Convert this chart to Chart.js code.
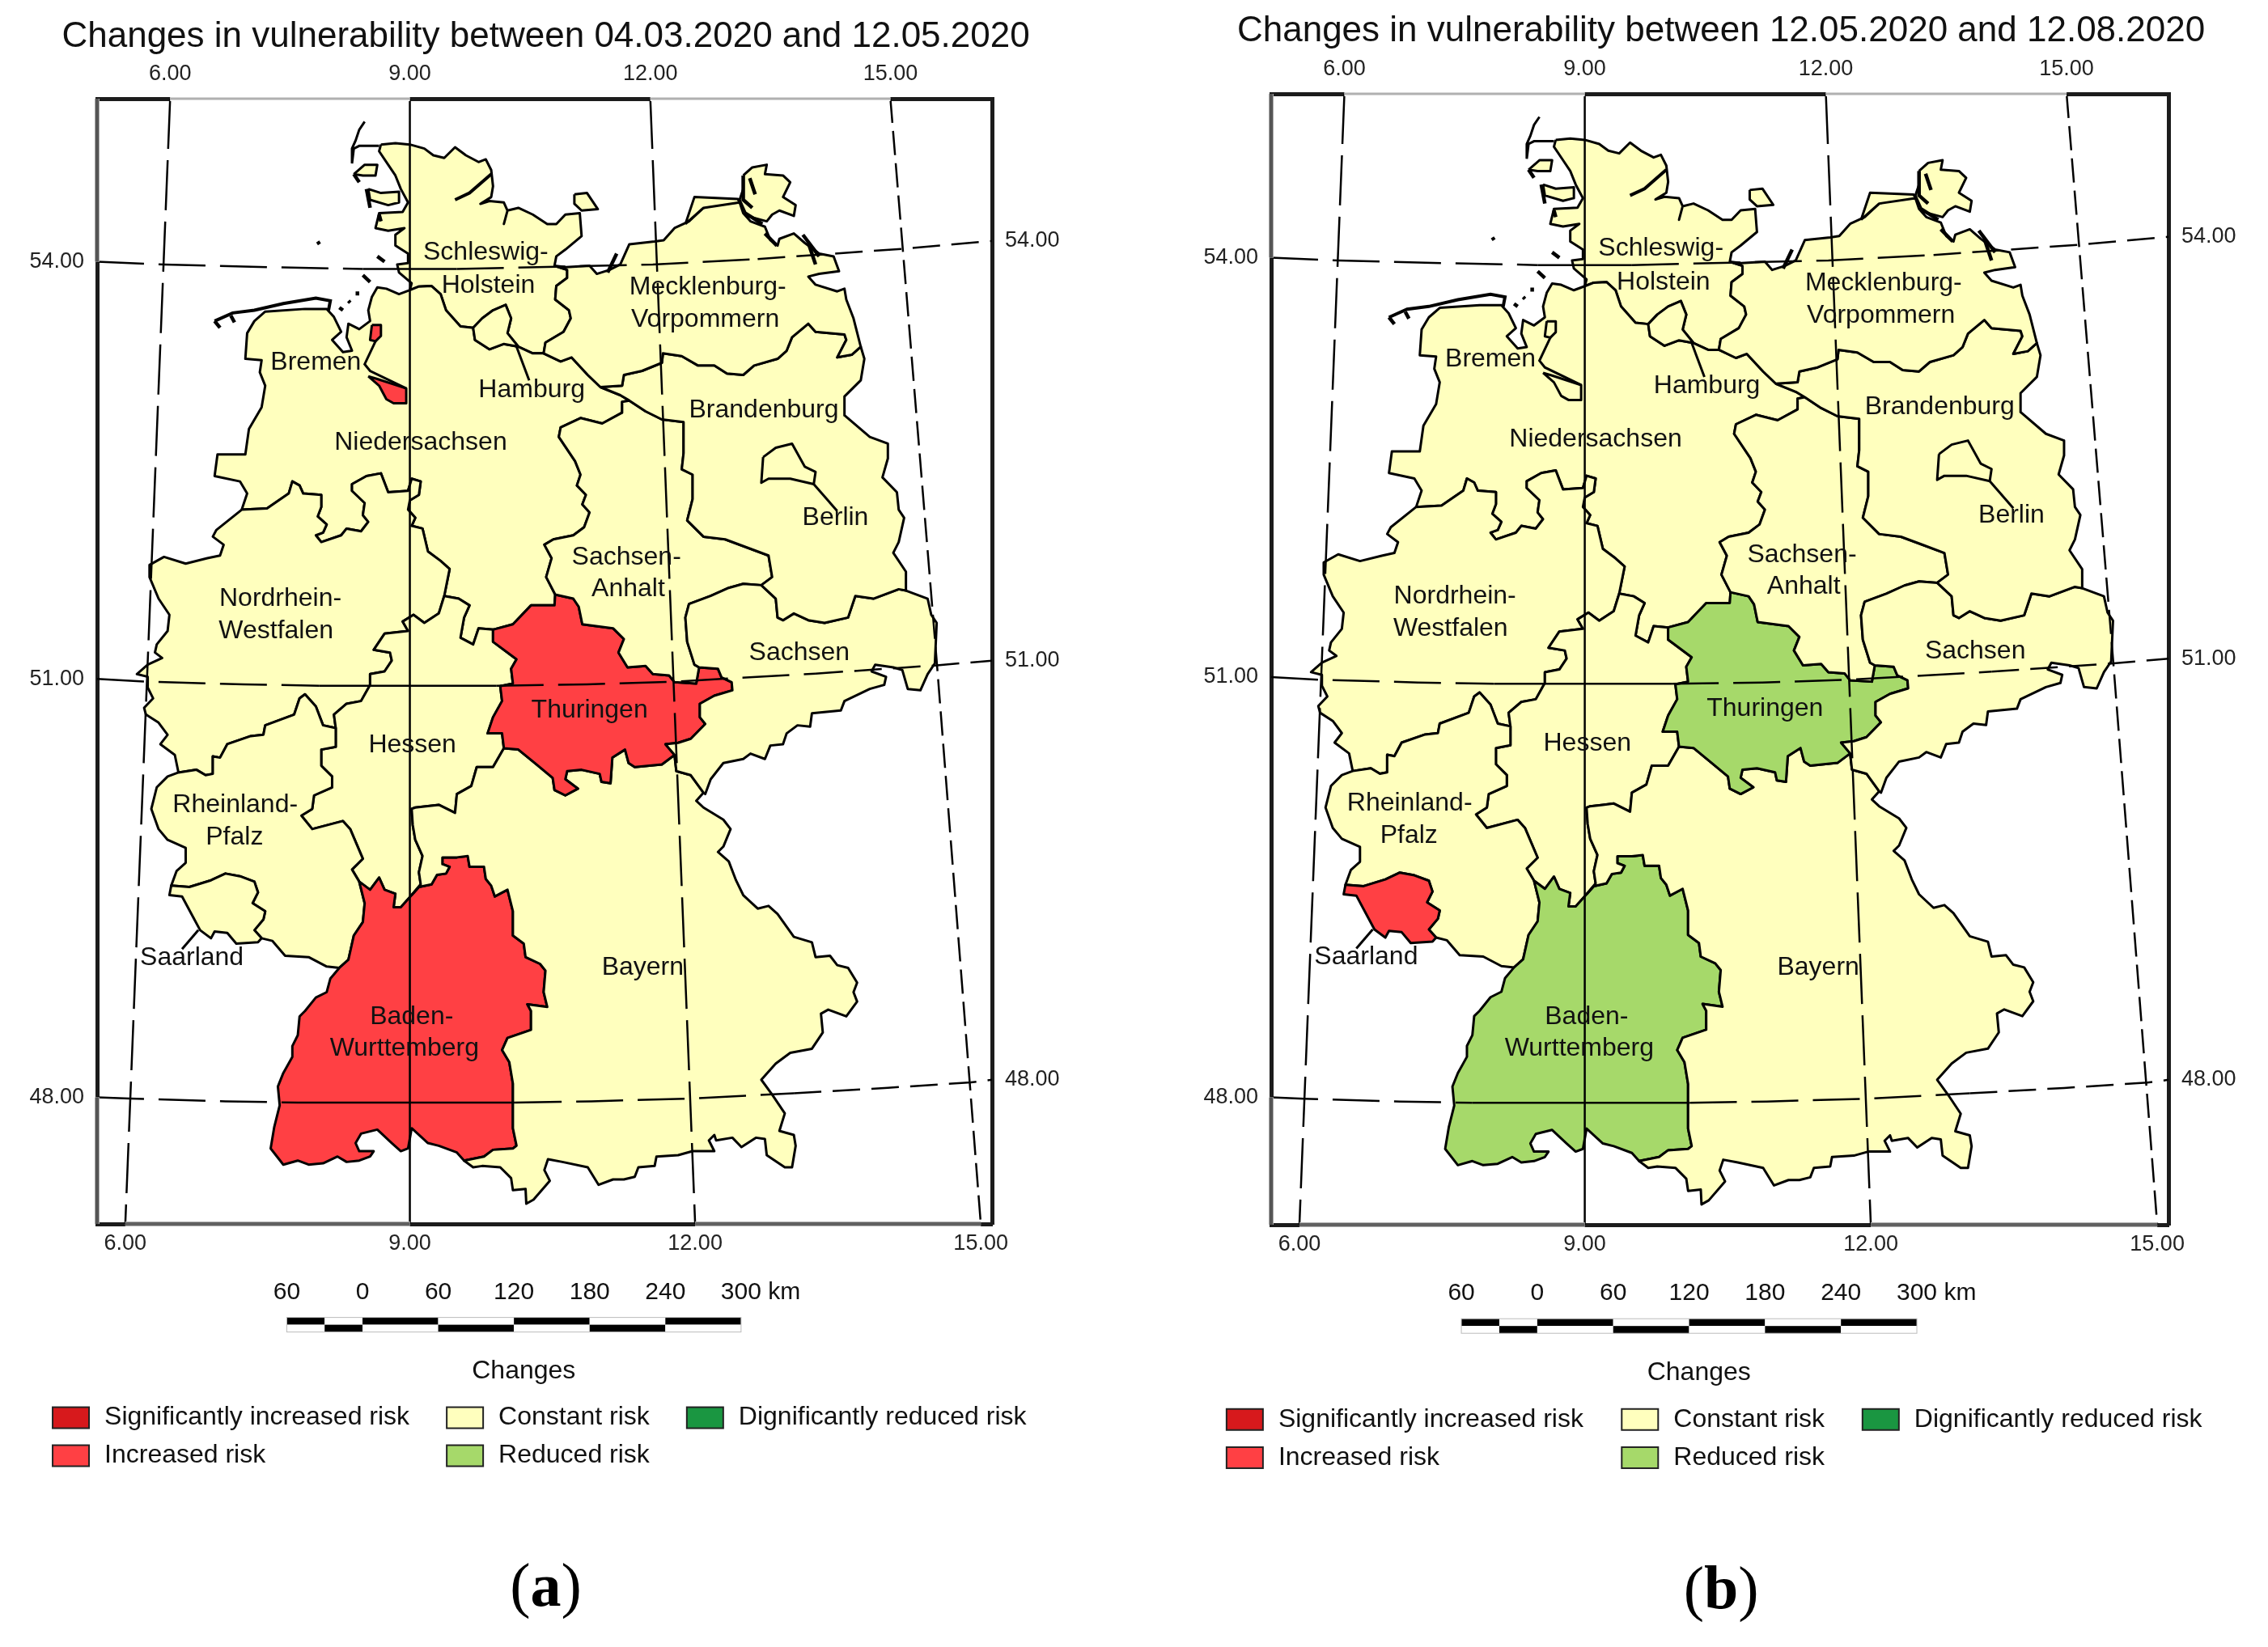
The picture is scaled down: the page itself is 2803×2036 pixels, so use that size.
<!DOCTYPE html>
<html>
<head>
<meta charset="utf-8">
<title>Changes in vulnerability</title>
<script src="https://cdn.jsdelivr.net/npm/chart.js@4"></script>
<style>
  html, body { margin: 0; background: #fff; }
  canvas { position: absolute; top: 0; }
</style>
</head>
<body>
<canvas id="mapA" width="1400" height="2036" style="left:0"></canvas>
<canvas id="mapB" width="1403" height="2036" style="left:1400px"></canvas>
<script>
// Map data. Units are sheet units of the map (x 45-2520, y 65-4240)
const lonTickLabels = ["6.00", "9.00", "12.00", "15.00"];
const latTickLabels = ["54.00", "51.00", "48.00"];
const lonTopAt = [247, 910, 1575, 2239];
const lonBottomAt = [123, 910, 1699, 2489];
const latLeftAt = [670, 2218, 3770];
const latRightAt = [593, 2150, 3705];

// Graticule
const meridian6 = [[247,65],[123,4240]];
const meridian9 = [[910,65],[910,4240]];
const meridian12 = [[1575,65],[1699,4240]];
const meridian15 = [[2239,65],[2367,2150],[2489,4240]];
const parallel54 = [[45,670],[230,680],[520,690],[780,697],[1040,697],[1582,680],[1872,660],[2272,622],[2520,593]];
const parallel51 = [[45,2218],[180,2228],[450,2238],[660,2243],[1150,2243],[1400,2238],[1642,2228],[2032,2198],[2362,2168],[2520,2150]];
const parallel48 = [[45,3770],[135,3775],[400,3785],[600,3790],[1200,3790],[1412,3785],[1682,3775],[1972,3755],[2232,3735],[2462,3715],[2520,3705]];

// Shared borders
const shCoast = [[830,235],[870,230],[910,235],[950,250],[975,275],[1005,285],[1035,245],[1065,275],[1100,300],[1120,290],[1135,330],[1140,390],[1135,430],[1105,455],[1130,445],[1170,450],[1180,480],[1170,530],[1180,480],[1210,470],[1250,495],[1290,530],[1315,530],[1340,495],[1380,490],[1385,575],[1340,625],[1315,650],[1310,685]];
const shMv = [[1310,685],[1345,700],[1345,730],[1315,760],[1312,810],[1350,850],[1355,880],[1335,930],[1285,970],[1280,1010]];
const elbeNorth = [[1280,1010],[1250,1010],[1210,985],[1180,935],[1190,880],[1175,830],[1140,850],[1110,880],[1085,915],[1050,910],[1010,850],[995,790],[970,760],[935,762],[910,775]];
const shWest = [[910,775],[915,750],[880,710],[875,680],[905,675],[905,640],[870,610],[870,570],[895,545],[850,555],[815,545],[825,490],[890,485],[905,450],[885,400],[870,350],[850,310],[825,260],[830,235]];
const hhSouth = [[1085,915],[1090,960],[1130,995],[1170,975],[1210,985]];
const nsMv = [[1280,1010],[1327,1040],[1357,1025],[1402,1090],[1437,1135]];
const nsBb = [[1437,1135],[1492,1165],[1517,1185]];
const nsSt = [[1517,1185],[1497,1190],[1497,1230],[1442,1270],[1382,1250],[1327,1285],[1322,1320],[1367,1410],[1382,1460],[1372,1500],[1397,1535],[1387,1570],[1407,1600],[1392,1655],[1362,1685],[1307,1700],[1282,1720],[1302,1770],[1287,1840],[1312,1905]];
const thNs = [[1312,1905],[1310,1945],[1245,1945],[1195,2015],[1140,2035]];
const nsHe = [[1140,2035],[1100,2030],[1085,2090],[1050,2065],[1060,1990],[1075,1945],[1045,1920],[1005,1910]];
const nsNrw = [[1005,1910],[1020,1810],[995,1780],[960,1745],[945,1660],[915,1650],[925,1620],[905,1590],[910,1555],[935,1535],[940,1485],[915,1475],[905,1520],[850,1525],[830,1455],[790,1465],[750,1495],[750,1520],[785,1565],[780,1610],[795,1635],[775,1670],[735,1660],[720,1685],[665,1710],[650,1685],[670,1675],[680,1645],[655,1615],[665,1580],[665,1535],[615,1530],[605,1500],[585,1485],[575,1530],[515,1585],[445,1590]];
const nsWest = [[445,1590],[460,1530],[440,1485],[370,1465],[378,1385],[455,1385],[465,1290],[500,1210],[510,1130],[495,1080],[500,1035],[455,1030],[460,935],[480,890],[510,855],[620,845],[680,845],[700,875],[720,930],[695,960],[725,1005],[750,1000],[735,950],[740,900],[770,920],[800,890],[795,850],[805,800],[820,765],[845,770],[880,790],[910,775]];
const nrwHe = [[1005,1910],[990,1975],[950,2010],[920,1980],[890,2005],[905,2040],[840,2050],[810,2110],[855,2120],[860,2150],[840,2190],[800,2200],[800,2240],[775,2300],[735,2310],[700,2350],[705,2400]];
const nrwRp = [[705,2400],[670,2390],[650,2320],[620,2275],[605,2290],[590,2350],[510,2390],[505,2425],[470,2430],[405,2460],[385,2510],[365,2505],[365,2570],[345,2575],[320,2555],[270,2565]];
const nrwWest = [[270,2565],[260,2500],[220,2460],[240,2425],[215,2380],[180,2350],[175,2325],[200,2290],[185,2250],[185,2210],[155,2200],[185,2165],[225,2140],[205,2120],[210,2090],[240,2040],[245,1980],[215,1920],[190,1840],[190,1795],[230,1765],[290,1790],[350,1770],[385,1760],[395,1720],[365,1690],[375,1665],[445,1590]];
const heTh = [[1140,2035],[1140,2080],[1205,2145],[1190,2180],[1195,2235],[1160,2245],[1165,2300],[1140,2360],[1125,2420],[1165,2420],[1170,2475]];
const heBy = [[1170,2475],[1140,2545],[1095,2545],[1080,2615],[1040,2645],[1035,2715],[990,2685],[960,2690],[925,2695],[915,2700],[918,2760],[925,2815],[945,2875],[935,2935],[940,2980],[915,3020]];
const heBw = [[915,3020],[885,3065],[865,3065],[870,3015],[840,3000],[825,2955],[800,3000],[770,2970]];
const heRp = [[770,2970],[750,2925],[780,2885],[745,2775],[725,2745],[640,2775],[610,2725],[640,2700],[645,2650],[695,2620],[695,2580],[665,2540],[665,2480],[705,2470],[705,2400]];
const rpBw = [[770,2970],[785,3050],[780,3120],[755,3170],[740,3260],[715,3290]];
const rpFrance = [[715,3290],[680,3285],[630,3250],[565,3245],[530,3190],[500,3180]];
const rpSl = [[500,3180],[480,3150],[505,3110],[510,3080],[475,3050],[490,3010],[480,2970],[440,2950],[400,2940],[360,2965],[300,2990],[250,2985]];
const rpWest = [[250,2985],[265,2930],[290,2900],[290,2845],[240,2815],[215,2775],[195,2700],[210,2620],[240,2580],[270,2565]];
const slOuter = [[250,2985],[245,3020],[280,3025],[310,3100],[330,3150],[360,3180],[370,3155],[405,3160],[430,3200],[490,3195],[500,3180]];
const bwBy = [[915,3020],[935,2990],[970,2980],[985,2945],[1010,2940],[1020,2915],[1000,2905],[1000,2880],[1040,2880],[1070,2875],[1075,2915],[1115,2915],[1120,2960],[1135,2985],[1145,3025],[1180,3000],[1195,3080],[1195,3170],[1225,3200],[1230,3250],[1270,3275],[1285,3300],[1280,3380],[1290,3435],[1235,3425],[1245,3450],[1245,3520],[1180,3550],[1165,3595],[1185,3640],[1195,3720],[1195,3885],[1205,3950],[1195,3960],[1140,3965],[1115,3990],[1060,4005]];
const bwSouth = [[1060,4005],[1040,3975],[990,3950],[960,3940],[915,3885],[905,3960],[885,3970],[860,3940],[820,3890],[775,3905],[760,3940],[770,3970],[810,3970],[800,3990],[770,4005],[735,4010],[710,3990],[670,4015],[630,4020],[600,4005],[560,4020],[525,3960],[535,3880],[550,3800],[545,3730],[560,3680],[585,3620],[585,3580],[600,3540],[605,3470],[620,3450],[650,3400],[680,3380],[690,3330],[715,3290]];
const thBy = [[1170,2475],[1210,2480],[1260,2535],[1305,2585],[1310,2630],[1340,2650],[1375,2625],[1340,2590],[1345,2560],[1385,2555],[1435,2570],[1440,2600],[1465,2605],[1470,2510],[1505,2480],[1515,2530],[1532,2545],[1607,2535],[1642,2500]];
const thSn = [[1642,2500],[1617,2460],[1652,2455],[1687,2440],[1727,2385],[1712,2360],[1712,2310],[1752,2280],[1802,2260],[1800,2230],[1772,2212],[1762,2180],[1710,2175]];
const thSt = [[1710,2175],[1702,2235],[1642,2230],[1627,2205],[1582,2200],[1562,2170],[1512,2175],[1487,2120],[1502,2070],[1472,2030],[1387,2015],[1377,1950],[1362,1920],[1312,1905]];
const bySn = [[1642,2500],[1647,2560],[1687,2575],[1722,2640]];
const byEast = [[1722,2640],[1702,2670],[1722,2695],[1777,2740],[1797,2775],[1777,2840],[1762,2860],[1792,2895],[1812,2965],[1832,3020],[1872,3070],[1902,3060],[1927,3090],[1972,3175],[2022,3195],[2032,3250],[2072,3245],[2092,3280],[2122,3290],[2147,3345],[2137,3380],[2147,3415],[2117,3470],[2067,3445],[2047,3460],[2052,3530],[2022,3590],[1962,3605],[1922,3645],[1882,3705],[1912,3760],[1947,3830],[1932,3895],[1972,3910],[1977,3950],[1967,4030],[1947,4030],[1897,3985],[1892,3925],[1867,3920],[1827,3955],[1802,3920],[1757,3930],[1752,3910],[1737,3930],[1752,3970],[1692,3970],[1652,3985],[1592,3990],[1587,4025],[1542,4030],[1532,4065],[1502,4075],[1472,4075],[1432,4095],[1402,4030],[1332,4010],[1292,4000],[1282,4040],[1297,4080],[1252,4150],[1232,4165],[1230,4110],[1195,4115],[1190,4070],[1160,4030],[1110,4025],[1085,4030],[1060,4005]];
const stBb = [[1517,1185],[1562,1225],[1607,1255],[1667,1265],[1667,1380],[1662,1440],[1692,1460],[1692,1550],[1677,1630],[1722,1690],[1782,1700],[1842,1730],[1902,1760],[1912,1840],[1882,1870]];
const stSn = [[1882,1870],[1832,1865],[1792,1880],[1742,1910],[1682,1940],[1672,1990],[1677,2080],[1697,2165],[1710,2175]];
const snBb = [[1882,1870],[1922,1920],[1927,1990],[1942,2000],[1972,1975],[2012,2000],[2057,2010],[2122,1990],[2142,1910],[2192,1920],[2262,1885],[2282,1890]];
const snEast = [[2282,1890],[2342,1920],[2352,1980],[2367,2010],[2362,2160],[2342,2200],[2322,2260],[2287,2255],[2272,2185],[2247,2175],[2197,2165],[2187,2190],[2227,2210],[2222,2240],[2182,2255],[2112,2300],[2102,2335],[2022,2345],[2017,2395],[1982,2390],[1952,2420],[1942,2460],[1907,2465],[1892,2515],[1852,2495],[1832,2515],[1777,2530],[1742,2590],[1727,2645],[1722,2640]];
const mvBb = [[1437,1135],[1497,1130],[1502,1090],[1552,1075],[1607,1045],[1610,1010],[1662,1020],[1707,1055],[1752,1055],[1787,1085],[1832,1090],[1862,1055],[1927,1030],[1952,1000],[1967,950],[2012,900],[2032,930],[2112,940],[2117,960],[2092,1025],[2132,1015],[2157,985]];
const bbEast = [[2157,985],[2167,1030],[2157,1110],[2112,1170],[2112,1240],[2182,1320],[2232,1345],[2232,1400],[2217,1470],[2257,1525],[2262,1590],[2277,1620],[2262,1710],[2247,1750],[2282,1820],[2282,1890]];
const mvCoast = [[1310,685],[1342,690],[1407,685],[1427,715],[1462,700],[1492,680],[1517,605],[1587,595],[1612,590],[1642,545],[1682,520],[1722,470],[1762,455],[1822,450],[1832,490],[1852,520],[1892,540],[1907,590],[1927,610],[1932,585],[1972,565],[2002,600],[2042,640],[2082,650],[2097,705],[2042,715],[2012,725],[2032,755],[2092,780],[2112,770],[2117,810],[2137,880],[2157,985]];

// Closed small shapes
const bremerhaven = [[805,905],[830,905],[830,945],[815,965],[800,960],[805,905]];
const bremenCity = [[795,1095],[820,1105],[900,1140],[900,1195],[865,1195],[845,1180],[825,1130],[795,1095]];
const berlin = [[1887,1395],[1922,1360],[1967,1345],[2002,1430],[2032,1450],[2027,1495],[1962,1475],[1902,1475],[1882,1490],[1887,1395]];
const rugen = [[1832,350],[1857,320],[1897,310],[1892,345],[1942,350],[1962,375],[1942,430],[1977,460],[1972,500],[1932,480],[1912,495],[1897,520],[1842,500],[1822,440],[1832,400],[1832,350]];
const darss = [[1672,530],[1697,430],[1817,437],[1822,450],[1722,470],[1672,530]];
const fehmarn = [[1365,420],[1400,415],[1430,475],[1385,480],[1365,455],[1365,420]];
const fohr = [[755,345],[785,310],[820,310],[815,350],[780,350],[755,345]];
const pellworm = [[795,400],[830,415],[880,410],[880,450],[850,460],[800,440],[795,400]];

// Open strokes: coast details and label leaders
const sylt = [[785,150],[770,180],[760,220],[750,250],[750,305],[755,250],[770,240],[825,240]];
const eastFrisia = [[370,890],[420,860],[480,850],[560,825],[650,805],[690,815],[685,850]];
const kielFjord = [[1135,345],[1075,415],[1035,440]];
const coastBits = [
  [[825,495],[830,520]], [[655,595],[660,605]], [[820,650],[840,670]], [[780,720],[800,745]],
  [[765,780],[765,795]], [[740,815],[745,822]], [[715,840],[725,850]], [[370,890],[385,915]],
  [[415,870],[425,895]], [[790,400],[800,470]], [[755,345],[770,375]],
  [[1832,350],[1832,440],[1857,470]], [[1850,360],[1865,420]], [[1838,490],[1885,530]],
  [[1892,565],[1925,610]], [[1997,570],[2042,650]], [[2012,600],[2032,680]], [[1482,640],[1457,710]],
];
const bremenLeader = [[815,965],[785,1050],[800,1075],[900,1140]];
const hamburgLeader = [[1205,985],[1240,1110]];
const berlinLeader = [[2027,1495],[2092,1595]];
const saarlandLeader = [[325,3150],[280,3220]];

const rev = (a) => [...a].reverse();
const schleswig = [...shCoast, ...shMv, ...elbeNorth, ...shWest];
const hamburg = [...elbeNorth.slice(2, 9), ...hhSouth];
const niedersachsen = [...rev(elbeNorth.slice(8)), ...hhSouth, ...elbeNorth.slice(0, 2).reverse(), ...nsMv, ...nsBb, ...nsSt, ...thNs, ...nsHe, ...nsNrw, ...nsWest];
const nordrhein = [...rev(nsNrw), ...nrwHe, ...nrwRp, ...nrwWest];
const hessen = [...rev(nsHe), ...heTh, ...heBy, ...heBw, ...heRp, ...rev(nrwHe)];
const rheinland = [...rev(nrwRp), ...rev(heRp), ...rpBw, ...rpFrance, ...rpSl, ...rpWest];
const saarland = [...rpSl, ...slOuter];
const baden = [...bwBy, ...bwSouth, ...rev(rpBw), ...rev(heBw)];
const bayern = [...rev(heBy), ...thBy, ...bySn, ...byEast, ...rev(bwBy)];
const thuringen = [...heTh, ...thBy, ...thSn, ...thSt, ...thNs];
const sachsenAnhalt = [...nsSt, ...rev(thSt), ...rev(stSn), ...rev(stBb)];
const sachsen = [...snBb, ...snEast, ...rev(bySn), ...thSn, ...rev(stSn)];
const brandenburg = [...mvBb, ...bbEast, ...rev(snBb), ...rev(stBb), ...rev(nsBb)];
const mecklenburg = [...mvCoast, ...rev(mvBb), ...rev(nsMv), ...rev(shMv)];

const stateShapes = [schleswig, niedersachsen, nordrhein, hessen, rheinland, saarland, baden, bayern, thuringen, sachsenAnhalt, sachsen, brandenburg, mecklenburg, hamburg, berlin, bremerhaven, bremenCity, rugen, darss, fehmarn, fohr, pellworm];
// Risk class of each shape, index into riskNames
const riskA = [2, 2, 2, 2, 2, 2, 1, 2, 1, 2, 2, 2, 2, 2, 2, 1, 1, 2, 2, 2, 2, 2];
const riskB = [2, 2, 2, 2, 2, 1, 3, 2, 3, 2, 2, 2, 2, 2, 2, 2, 2, 2, 2, 2, 2, 2];

const riskNames = ["Significantly increased risk", "Increased risk", "Constant risk", "Reduced risk", "Dignificantly reduced risk"];
const riskColors = ["#D7191C", "#FF4044", "#FFFFBE", "#A6D96A", "#1A9641"];
const legendCol = [-78, -78, 1012, 1012, 1676];
const legendRow = [4959, 5100, 4959, 5100, 4959];

const mapLabels = ["Schleswig-", "Holstein", "Mecklenburg-", "Vorpommern", "Hamburg", "Bremen", "Niedersachsen", "Brandenburg", "Berlin", "Sachsen-", "Anhalt", "Nordrhein-", "Westfalen", "Sachsen", "Thuringen", "Hessen", "Rheinland-", "Pfalz", "Saarland", "Bayern", "Baden-", "Wurttemberg"];
const mapLabelX = [1120, 1127, 1734, 1727, 1247, 650, 940, 1889, 2087, 1509, 1514, 552, 540, 1987, 1407, 917, 427, 425, 307, 1554, 915, 895];
const mapLabelY = [637, 760, 765, 885, 1145, 1045, 1340, 1220, 1620, 1768, 1885, 1920, 2040, 2122, 2335, 2465, 2685, 2805, 3252, 3290, 3472, 3590];

// Scale bar
const barKm = [-60, -30, 0, 60, 120, 180, 240, 300];
const barLabelKm = [-60, 0, 60, 120, 180, 240, 300];
const barLabels = ["60", "0", "60", "120", "180", "240", "300"];

const FONT = '"Liberation Sans", Arial, sans-serif';
const pts = (a) => a.map(([x, y]) => ({ x, y }));

function strokeSet(data, width, dash) {
  return {
    data: pts(data),
    showLine: true,
    fill: false,
    pointRadius: 0,
    borderColor: "#000",
    borderWidth: width,
    borderDash: dash || [],
    tension: 0,
  };
}

// Parallels: unbroken around the central meridian, shorter dashes toward the east
function parallelSet(data, solidFrom, solidTo) {
  const set = strokeSet(data, 2.5);
  set.segment = {
    borderDash: (seg) => {
      const x = seg.p0.parsed.x;
      if (x >= solidFrom && x < solidTo) return [];
      return x > 1800 ? [34, 14] : [58, 18];
    },
  };
  return set;
}

// Text, scale bar and legend around the map
const sheetExtras = {
  id: "sheetExtras",
  afterDatasetsDraw(chart, args, opts) {
    const { ctx, scales } = chart;
    const px = (u) => scales.x.getPixelForValue(u);
    const py = (v) => scales.y.getPixelForValue(v);
    ctx.save();

    // the frame reads lighter between some graticule ends
    const frameRuns = [
      [px(lonTopAt[0]), py(65), px(lonTopAt[1]), py(65), "#b0b0b0", 3],
      [px(lonTopAt[2]), py(65), px(lonTopAt[3]), py(65), "#b0b0b0", 3],
      [px(lonBottomAt[0]), py(4240), px(lonBottomAt[1]), py(4240), "#606060", 5],
      [px(lonBottomAt[2]), py(4240), px(lonBottomAt[3]), py(4240), "#606060", 5],
      [px(45), py(65), px(45), py(latLeftAt[0]), "#555", 5],
      [px(45), py(latLeftAt[2]), px(45), py(4240), "#555", 5],
    ];
    frameRuns.forEach(([x0, y0, x1, y1, color, width]) => {
      ctx.strokeStyle = "#fff";
      ctx.lineWidth = 6;
      ctx.beginPath(); ctx.moveTo(x0, y0); ctx.lineTo(x1, y1); ctx.stroke();
      ctx.strokeStyle = color;
      ctx.lineWidth = width;
      ctx.beginPath(); ctx.moveTo(x0, y0); ctx.lineTo(x1, y1); ctx.stroke();
    });

    ctx.fillStyle = "#111";
    ctx.textAlign = "center";
    ctx.textBaseline = "middle";

    ctx.font = "32px " + FONT;
    mapLabels.forEach((t, i) => ctx.fillText(t, px(mapLabelX[i]), py(mapLabelY[i])));

    ctx.font = "44px " + FONT;
    ctx.fillText(opts.title, px(1286), py(-165));

    // scale bar
    const kmX = (km) => px(779 + km * 3.49);
    const barTop = py(4587);
    for (let i = 0; i < barKm.length - 1; i++) {
      const x0 = kmX(barKm[i]);
      const w = kmX(barKm[i + 1]) - x0;
      ctx.fillStyle = i % 2 === 0 ? "#000" : "#fff";
      ctx.fillRect(x0, barTop, w, 9);
      ctx.fillStyle = i % 2 === 0 ? "#fff" : "#000";
      ctx.fillRect(x0, barTop + 9, w, 9);
    }
    ctx.strokeStyle = "#bbb";
    ctx.lineWidth = 1;
    ctx.strokeRect(kmX(-60), barTop, kmX(300) - kmX(-60), 18);

    ctx.fillStyle = "#111";
    ctx.font = "30px " + FONT;
    barLabels.forEach((t, i) => ctx.fillText(t, kmX(barLabelKm[i]), py(4494)));
    ctx.textAlign = "left";
    ctx.fillText(" km", kmX(300) + ctx.measureText("300").width / 2, py(4494));

    // legend
    ctx.textAlign = "center";
    ctx.font = "32px " + FONT;
    ctx.fillText("Changes", px(1225), py(4788));
    ctx.textAlign = "left";
    riskNames.forEach((name, i) => {
      const x = px(legendCol[i]);
      const y = py(legendRow[i]);
      ctx.fillStyle = riskColors[i];
      ctx.fillRect(x, y - 13, 45, 26);
      ctx.strokeStyle = "#222";
      ctx.lineWidth = 2;
      ctx.strokeRect(x, y - 13, 45, 26);
      ctx.fillStyle = "#111";
      ctx.fillText(name, x + 64, y);
    });

    // caption: (a) with the letter in bold
    const cx = px(1286);
    const cy = py(5598);
    ctx.fillStyle = "#000";
    ctx.font = '76px "Liberation Serif", serif';
    const parenW = ctx.measureText("(").width;
    ctx.font = 'bold 76px "Liberation Serif", serif';
    const letterW = ctx.measureText(opts.caption).width;
    ctx.fillText(opts.caption, cx - letterW / 2, cy);
    ctx.font = '76px "Liberation Serif", serif';
    ctx.fillText("(", cx - letterW / 2 - parenW, cy);
    ctx.fillText(")", cx + letterW / 2, cy);
    ctx.restore();
  },
};

function axisBase(position, ticks, labels, size, pad) {
  const horizontal = position === "top" || position === "bottom";
  return {
    type: "linear",
    position,
    axis: horizontal ? "x" : "y",
    reverse: !horizontal,
    min: horizontal ? 45 : 65,
    max: horizontal ? 2520 : 4240,
    border: { display: true, color: "#1c1c1c", width: 5 },
    grid: { display: true, drawOnChartArea: false, drawTicks: false },
    afterBuildTicks: (scale) => {
      scale.ticks = ticks.map((value) => ({ value }));
    },
    afterFit: (scale) => {
      if (horizontal) scale.height = size;
      else scale.width = size;
    },
    ticks: {
      autoSkip: false,
      maxRotation: 0,
      padding: pad,
      color: "#222",
      font: { family: FONT, size: 27 },
      callback: (v, i) => labels[i],
    },
  };
}

function drawMap(id, risk, title, caption, padding) {
  const datasets = [
    strokeSet(meridian9, 2.5),
    strokeSet(meridian6, 2.5, [62, 14]),
    strokeSet(meridian12, 2.5, [62, 14]),
    strokeSet(meridian15, 2.5, [30, 10]),
    parallelSet(parallel54, 780, 1040),
    parallelSet(parallel51, 660, 1150),
    parallelSet(parallel48, 600, 1200),
    strokeSet(sylt, 3),
    strokeSet(eastFrisia, 4),
    strokeSet(kielFjord, 4),
    ...coastBits.map((bit) => strokeSet(bit, 4.5)),
    strokeSet(bremenLeader, 3),
    strokeSet(hamburgLeader, 3),
    strokeSet(berlinLeader, 3),
    strokeSet(saarlandLeader, 3),
  ];
  // Later entries of stateShapes are the small ones and must sit on top
  stateShapes
    .map((shape, i) => ({ shape, i }))
    .reverse()
    .forEach(({ shape, i }) => {
      datasets.push({
        data: pts(shape),
        showLine: true,
        fill: "shape",
        backgroundColor: riskColors[risk[i]],
        borderColor: "#000",
        borderWidth: 3,
        borderJoinStyle: "round",
        pointRadius: 0,
        tension: 0,
      });
    });

  new Chart(document.getElementById(id), {
    type: "scatter",
    data: { datasets },
    options: {
      responsive: false,
      animation: false,
      devicePixelRatio: 1,
      layout: { padding },
      plugins: {
        legend: { display: false },
        tooltip: { enabled: false },
        sheetExtras: { title, caption },
      },
      scales: {
        x: axisBase("bottom", lonBottomAt, lonTickLabels, 50, 8),
        xTop: axisBase("top", lonTopAt, lonTickLabels, 50, 14),
        y: axisBase("left", latLeftAt, latTickLabels, 100, 16),
        yRight: axisBase("right", latRightAt, latTickLabels, 100, 16),
      },
    },
    plugins: [sheetExtras],
  });
}

drawMap("mapA", riskA, "Changes in vulnerability between 04.03.2020 and 12.05.2020", "a",
  { left: 20, top: 72, right: 74, bottom: 473 });
drawMap("mapB", riskB, "Changes in vulnerability between 12.05.2020 and 12.08.2020", "b",
  { left: 71, top: 66, right: 23, bottom: 472 });
</script>
</body>
</html>
